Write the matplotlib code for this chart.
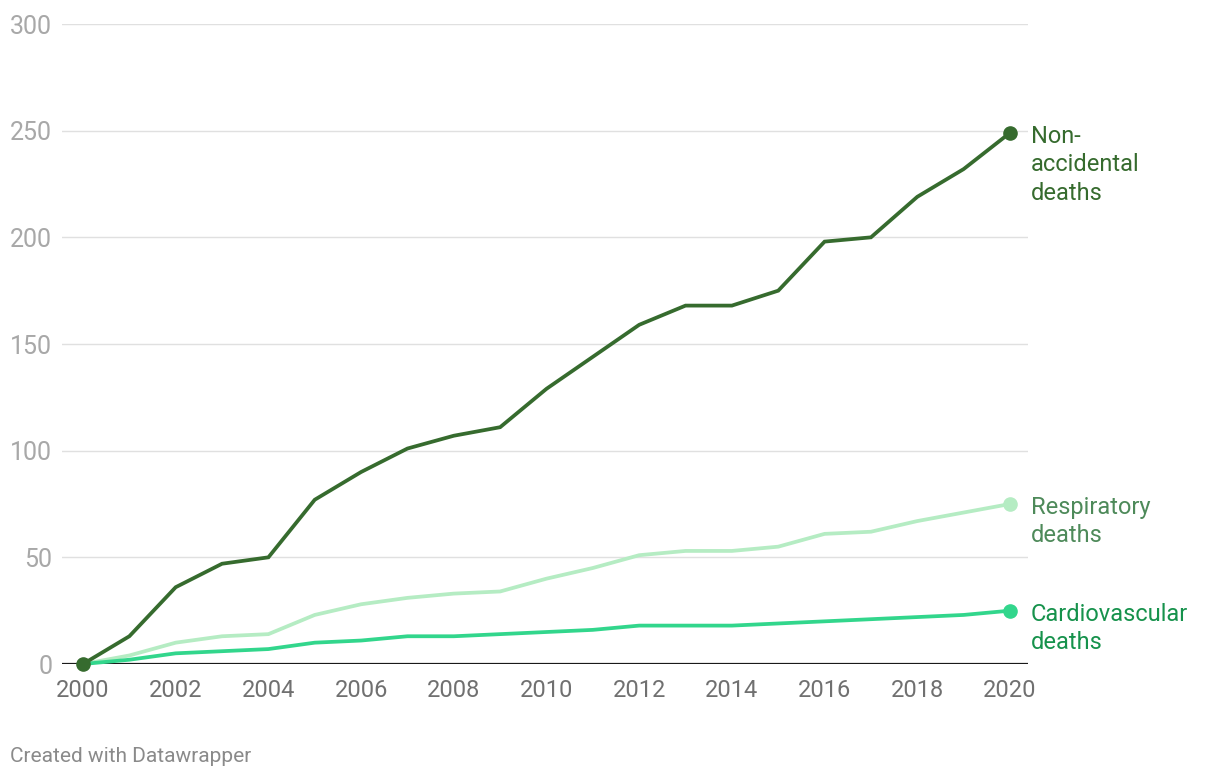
import matplotlib
matplotlib.use("Agg")
import matplotlib.pyplot as plt

plt.rcParams['font.family'] = ['Roboto', 'DejaVu Sans']

years = list(range(2000, 2021))
non_accidental = [0, 13, 36, 47, 50, 77, 90, 101, 107, 111, 129, 144, 159, 168, 168, 175, 198, 200, 219, 232, 249]
respiratory = [0, 4, 10, 13, 14, 23, 28, 31, 33, 34, 40, 45, 51, 53, 53, 55, 61, 62, 67, 71, 75]
cardiovascular = [0, 2, 5, 6, 7, 10, 11, 13, 13, 14, 15, 16, 18, 18, 18, 19, 20, 21, 22, 23, 25]

series_labels = ["Non-\naccidental\ndeaths", "Respiratory\ndeaths", "Cardiovascular\ndeaths"]
line_colors = ["#366b2e", "#b5ecc3", "#32d68c"]
label_colors = ["#366b2e", "#4e8a5a", "#16924c"]

x_ticks = list(range(2000, 2021, 2))
y_ticks = [0, 50, 100, 150, 200, 250, 300]

W, H = 1220, 780
fig = plt.figure(figsize=(W / 100, H / 100), dpi=100)
left, right, top, bottom = 62, 1028, 24, 664
ax = fig.add_axes([left / W, 1 - bottom / H, (right - left) / W, (bottom - top) / H])

x0 = 2000 - 21 / 46.35
x1 = 2020 + 18 / 46.35
ax.set_xlim(x0, x1)
ax.set_ylim(0, 300)

for s in ax.spines.values():
    s.set_visible(False)

ax.set_yticks(y_ticks)
ax.set_xticks(x_ticks)
ax.grid(axis='y', color='#e0e0e0', linewidth=1.0)
ax.set_axisbelow(True)
ax.tick_params(axis='both', length=0)
ax.tick_params(axis='y', labelsize=18, labelcolor='#a8a8a8', pad=7)
ax.tick_params(axis='x', labelsize=17, labelcolor='#707070', pad=11)
ax.axhline(0, color='#1a1a1a', linewidth=1.6, zorder=2)

data = [non_accidental, respiratory, cardiovascular]
order = [1, 2, 0]
for i in order:
    ax.plot(years, data[i], color=line_colors[i], linewidth=2.7, zorder=3 + (i == 0), clip_on=False,
            solid_joinstyle='miter')
    ax.plot([years[-1]], [data[i][-1]], 'o', color=line_colors[i], markersize=9.5, zorder=5, clip_on=False)
    ax.annotate(series_labels[i], xy=(years[-1], data[i][-1]), xytext=(21, 8), textcoords='offset pixels',
                ha='left', va='top', fontsize=17, color=label_colors[i], linespacing=1.3,
                annotation_clip=False)

ax.plot([years[0]], [non_accidental[0]], 'o', color=line_colors[0], markersize=9.5, zorder=6, clip_on=False)

fig.text(10 / W, 1 - 757 / H, "Created with Datawrapper", fontsize=15, color='#8a8a8a', ha='left', va='center')

fig.savefig("out.png", dpi=100, facecolor='white')
